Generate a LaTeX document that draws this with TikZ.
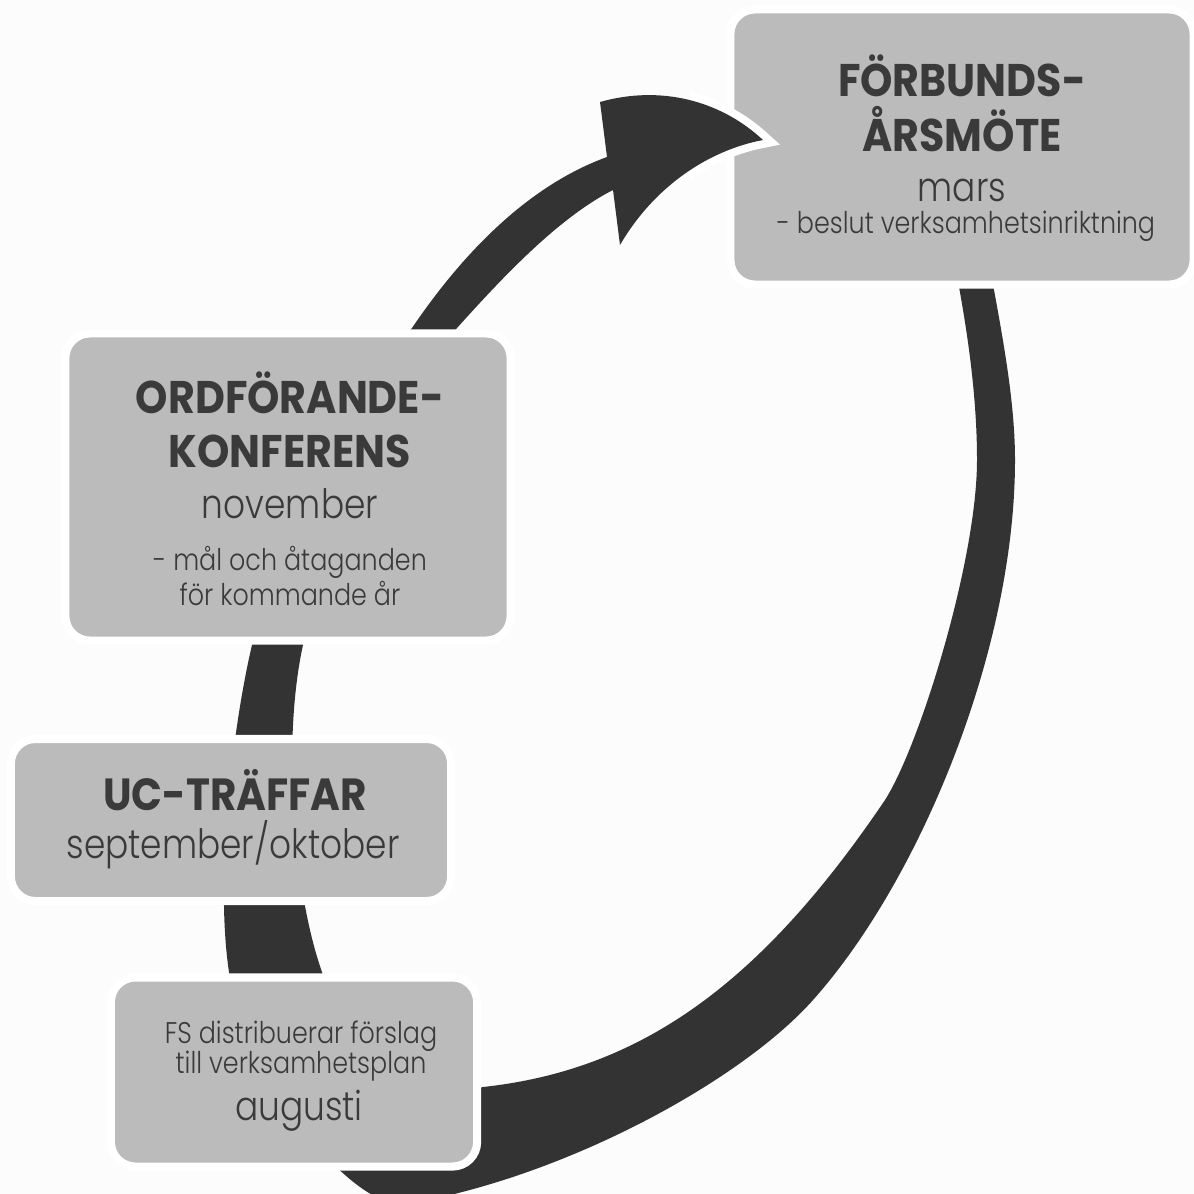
\documentclass[tikz,border=0pt]{standalone}
\usepackage{fontspec}
\setmainfont{Poppins}
\newfontfamily\headfont{Poppins}[FakeStretch=0.9]
\newfontfamily\thinfont{Poppins Light}[FakeStretch=0.85]
\definecolor{cpanel}{HTML}{BBBBBB}
\definecolor{cband}{HTML}{333333}
\definecolor{cink}{HTML}{3A3A3A}
\definecolor{cpaper}{HTML}{FCFCFC}
\tikzset{
  panel/.style={fill=cpanel, draw=white, line width=2.3pt, rounded corners=7pt, inner sep=0pt},
  band/.style={fill=cband},
  head/.style={font=\headfont\bfseries\fontsize{13}{15}\selectfont, text=cink, anchor=base, inner sep=0pt},
  month/.style={font=\thinfont\fontsize{11.5}{13}\selectfont, text=cink, anchor=base, inner sep=0pt},
  small/.style={font=\thinfont\fontsize{8.5}{10}\selectfont, text=cink, anchor=base, inner sep=0pt},
}

\begin{document}
\begin{tikzpicture}[x=0.01cm, y=-0.01cm]
  \useasboundingbox (0,0) rectangle (1194,1194);
  \clip (0,0) rectangle (1194,1194);
  \fill[cpaper] (0,0) rectangle (1194,1194);
  % the yearly loop: outer edge, arrow head, inner edge
  \fill[band] (985,240) .. controls (997,310) and (1015,390) .. (1015,460)
    .. controls (1015,650) and (920,880) .. (813,1000)
    .. controls (740,1082) and (560,1180) .. (400,1205)
    .. controls (330,1195) and (241,1050) .. (229,972)
    .. controls (215,880) and (232,730) .. (252,645)
    .. controls (272,560) and (348,405) .. (412,328)
    .. controls (465,250) and (530,185) .. (607,157)
    -- (600,102) .. controls (660,85) and (720,100) .. (763,140)
    .. controls (710,150) and (655,185) .. (620,245)
    -- (613,190) .. controls (558,218) and (502,278) .. (457,328)
    .. controls (393,398) and (321,545) .. (303,645)
    .. controls (282,740) and (293,890) .. (322,972)
    .. controls (340,1030) and (423,1105) .. (483,1087)
    .. controls (640,1070) and (760,985) .. (885,800)
    .. controls (920,745) and (977,560) .. (977,460)
    .. controls (977,380) and (962,300) .. (950,240) -- cycle;
  % panels
  \node[panel, minimum width=4.63cm, minimum height=2.75cm] (arsmote) at (962,147) {};
  \node[panel, minimum width=4.45cm, minimum height=3.07cm] (konferens) at (288,487) {};
  \node[panel, minimum width=4.40cm, minimum height=1.62cm] (uc) at (231,820) {};
  \node[panel, minimum width=3.66cm, minimum height=1.89cm] (forslag) at (294,1072) {};
  % arrow tip over the top panel
  \begin{scope}
    \clip (690,0) rectangle (800,300);
    \draw[white, line width=4.5pt] (600,102) .. controls (660,85) and (720,100) .. (763,140) .. controls (710,150) and (655,185) .. (620,245) -- cycle;
    \fill[band] (600,102) .. controls (660,85) and (720,100) .. (763,140) .. controls (710,150) and (655,185) .. (620,245) -- cycle;
  \end{scope}
  % texts
  \node[head] (arsmote-1) at (962,97) {FÖRBUNDS-};
  \node[head] (arsmote-2) at (962,152) {ÅRSMÖTE};
  \node[month] (arsmote-3) at (962,202) {mars};
  \node[small] (arsmote-4) at (966,233) {- beslut verksamhetsinriktning};
  \node[head] (konferens-1) at (290,413) {ORDFÖRANDE-};
  \node[head] (konferens-2) at (290,467) {KONFERENS};
  \node[month] (konferens-3) at (290,518) {november};
  \node[small] (konferens-4) at (290,570) {- mål och åtaganden};
  \node[small] (konferens-5) at (290,605) {för kommande år};
  \node[head, font=\headfont\bfseries\fontsize{12.8}{15}\selectfont] (uc-1) at (235,810) {UC-TRÄFFAR};
  \node[month] (uc-2) at (233,858) {september/oktober};
  \node[small] (forslag-1) at (301,1043) {FS distribuerar förslag};
  \node[small] (forslag-2) at (301,1073) {till verksamhetsplan};
  \node[month] (forslag-3) at (299,1120) {augusti};
\end{tikzpicture}
\end{document}
